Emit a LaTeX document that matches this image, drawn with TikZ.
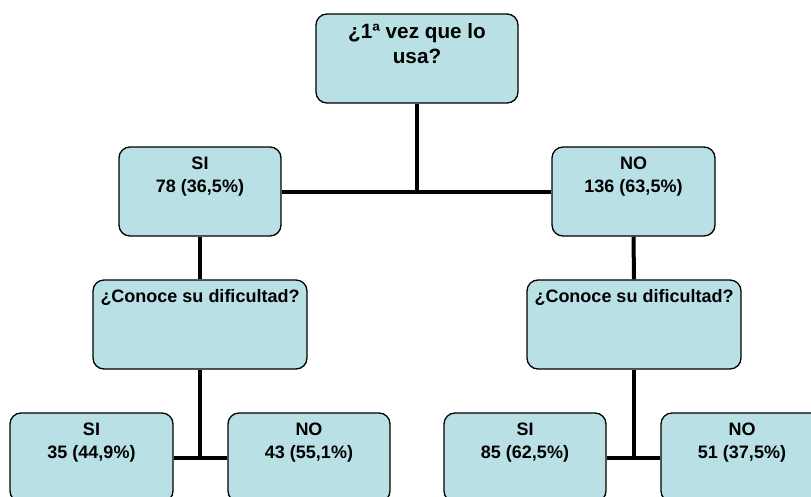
\documentclass[tikz,border=0pt]{standalone}
\usepackage{fontspec}
\setmainfont{Liberation Sans}
\definecolor{boxfill}{RGB}{185,224,228}
\begin{document}
\begin{tikzpicture}[x=1pt,y=-1pt,
 box/.style={draw=black, line width=1.3pt, fill=boxfill, rounded corners=11pt, inner sep=0pt, minimum height=89pt},
 lbl/.style={anchor=north, align=center, font=\fontsize{18}{23}\selectfont\bfseries, inner sep=0pt, yshift=-10pt},
 bigl/.style={lbl, font=\fontsize{20.7}{25}\selectfont\bfseries},
 conn/.style={line width=4pt}]
\useasboundingbox (0,0) rectangle (811,496);
\clip (0,0) rectangle (811,496);
\node[box, minimum width=202pt, label={[bigl]north:¿1ª vez que lo\\usa?}] (q1) at (417,58.5) {};
\node[box, minimum width=162pt, label={[lbl]north:SI\\78 (36,5\%)}] (si1) at (200,191.5) {};
\node[box, minimum width=163pt, label={[lbl]north:NO\\136 (63,5\%)}] (no1) at (633.5,191.5) {};
\node[box, minimum width=214pt, label={[lbl]north:¿Conoce su dificultad?}] (conL) at (200,324.5) {};
\node[box, minimum width=214pt, label={[lbl]north:¿Conoce su dificultad?}] (conR) at (634,324.5) {};
\node[box, minimum width=163pt, label={[lbl]north:SI\\35 (44,9\%)}] (si2) at (91.5,457.5) {};
\node[box, minimum width=162pt, label={[lbl]north:NO\\43 (55,1\%)}] (no2) at (309,457.5) {};
\node[box, minimum width=162pt, label={[lbl]north:SI\\85 (62,5\%)}] (si3) at (525,457.5) {};
\node[box, minimum width=162pt, label={[lbl]north:NO\\51 (37,5\%)}] (no3) at (742,457.5) {};
\coordinate (j1) at (q1.south |- si1.east);
\coordinate (j2) at (conL.south |- si2.east);
\coordinate (j3) at (conR.south |- si3.east);
\draw[conn] (q1.south) -- (j1);
\draw[conn] (si1.east) -- (no1.west);
\draw[conn] (si1.south) -- (conL.north);
\draw[conn] (no1.south) -- (conR.north);
\draw[conn] (conL.south) -- (j2);
\draw[conn] (si2.east) -- (no2.west);
\draw[conn] (conR.south) -- (j3);
\draw[conn] (si3.east) -- (no3.west);
\end{tikzpicture}
\end{document}
